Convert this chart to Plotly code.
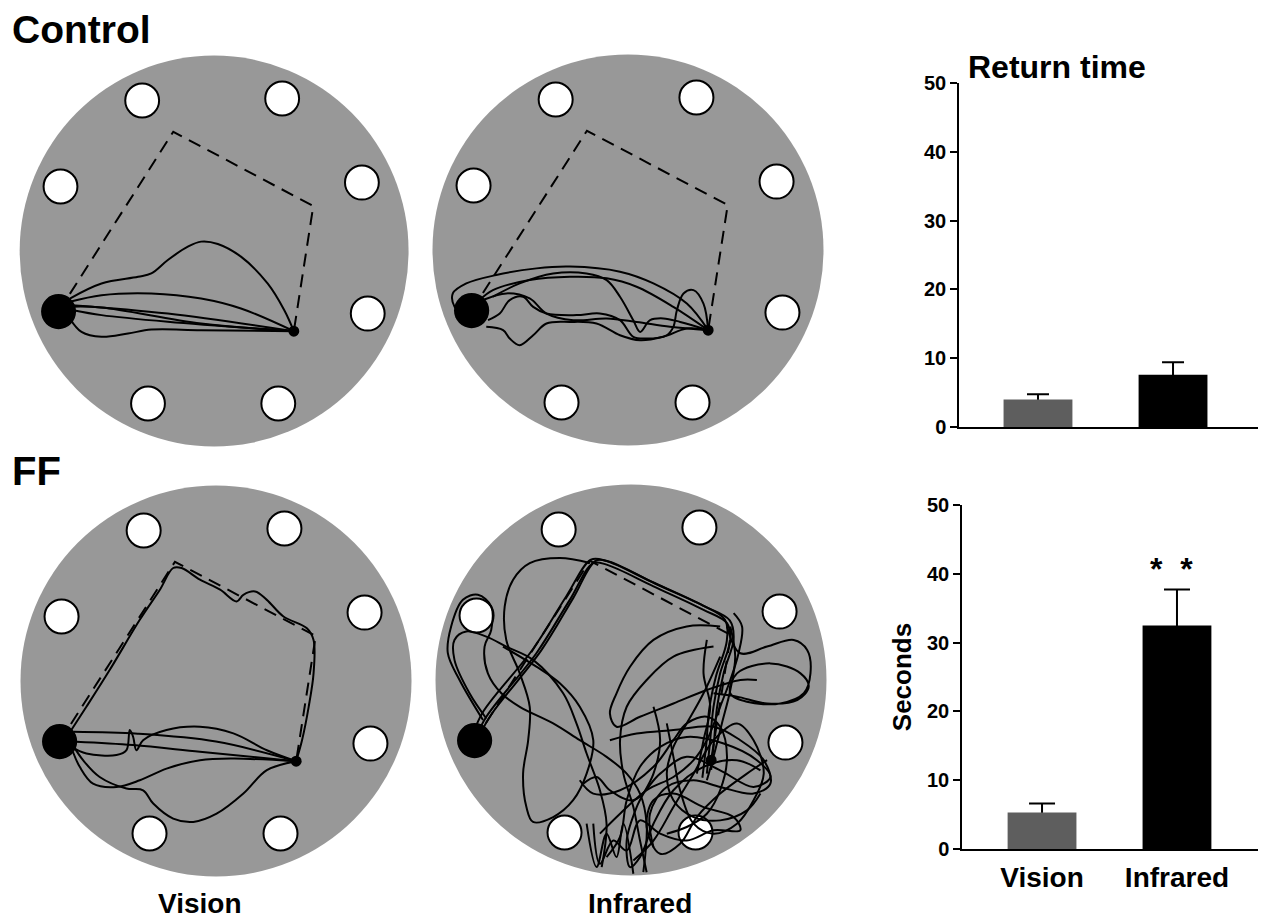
import plotly.graph_objects as go

# ------------------------------------------------------------------
# Bar-chart data (return time, seconds)
# ------------------------------------------------------------------
conditions = ["Vision", "Infrared"]
control_return_time = [4.0, 7.6]
control_sem = [0.75, 1.8]
ff_return_time = [5.3, 32.5]
ff_sem = [1.3, 5.2]
y_tick_vals = [0, 10, 20, 30, 40, 50]
bar_colors = ["#5e5e5e", "#000000"]

# ------------------------------------------------------------------
# Arena data (arena radius = 100 units, y pointing up)
# ------------------------------------------------------------------
ARENA_R = 100
hole_x = [-37, 35, -79, 76, 79, -34, 33]
hole_y = [77, 78, 33, 35, -32, -78, -78]
HOLE_R = 8.7
start_x, start_y = -80, -31
START_R = 9.0
target_x, target_y = 41, -41
TARGET_R = 2.8
route_x = [-80, -21, 51, 41]
route_y = [-31, 61, 23, -41]

# Control rat, vision
ctrl_vision_paths = [
    ([-74.2, -57.9, -39.1, -32.3, -23.8, -13.5, -6.7, 1.9, 13.8, 27.5, 36.1, 41],
     [-24.3, -16.6, -13.2, -11.5, -4.6, 2.2, 4.8, 3.6, -2.9, -16.6, -30.3, -41]),
    ([-74.2, -57.9, -32.3, -6.7, 13.8, 41],
     [-26.0, -22.6, -21.7, -24.3, -29.4, -41]),
    ([-73.3, -23.8, 41],
     [-27.7, -32.0, -41]),
    ([-72.5, -57.9, -23.8, 41],
     [-30.3, -32.8, -36.2, -41]),
    ([-74.2, -68.2, -57.9, -44.3, -32.3, -6.7, 41],
     [-34.5, -41.4, -43.9, -42.2, -40.2, -40.5, -41]),
    ([-73.0, -57.9, -6.7, 41],
     [-28.5, -28.9, -37.1, -41]),
]

# Control rat, infrared
ctrl_infrared_paths = [
    ([41, 30.1, 13, -4.1, -29.7, -46.8, -67.4, -82.7, -89.6, -88.7, -81, -72.5],
     [-41, -27.4, -17.1, -11.1, -8.5, -9.4, -12.8, -17.1, -22.2, -29.1, -35.9, -34.2]),
    ([41, 23.2, 4.4, -10.9, -29.7, -50.3, -69.1, -75.9],
     [-41, -29.1, -18.8, -14.5, -13.7, -15.4, -20.5, -25.6]),
    ([41, 38.6, 33.5, 28.4, 25, 23.2, 19.8, 9.6, 2.7, -4.1, -14.4, -26.3, -41.7, -48.5, -53.7, -60.5, -65.6, -71.6],
     [-41, -27.4, -20.5, -22.2, -30.8, -39.3, -43.6, -45.3, -44.4, -35.9, -32.5, -33.3, -32.5, -29.1, -23.9, -25.6, -32.5, -35.9]),
    ([41, 30.1, 18.1, 6.2, -4.1, -16.1, -29.7, -41.7, -48.5, -55.4, -60.5, -63.9, -72.5],
     [-41, -40.2, -44.4, -46.2, -43.6, -37.6, -36.8, -37.6, -43.6, -48.7, -45.3, -41, -39.3]),
    ([-74.2, -62.2, -50.3, -41.7, -28, -10.9, 4.4, 21.5, 41],
     [-25.6, -22.2, -24.8, -32.5, -35.9, -35, -36.8, -39.3, -41]),
    ([41, 26.7, 18.1, 11.3, 6.2, 2.7, -4.1, -10.9, -21.2, -38.3, -55.4, -69.1],
     [-41, -36.8, -35, -35.9, -41.9, -35.9, -23.9, -15.4, -12, -12, -17.1, -23.9]),
]

# FF rat, vision
ff_vision_paths = [
    ([-74, -66.3, -54.4, -39, -28.7, -21.9, -17.6, -8.2, 2.1, 10.6, 14, 20, 26, 34.5, 46.5, 49.9, 49.9, 47.4, 44, 41],
     [-25.1, -13.2, 5.6, 31.3, 46.7, 57.8, 57.8, 51.8, 46.7, 40.7, 44.1, 45.8, 41.5, 33, 27, 21, 3.9, -13.2, -30.3, -41]),
    ([41, 26, 8.9, -8.2, -25.3, -37.3, -40.7, -42.4, -44.1, -45.8, -50.9, -66.3, -74],
     [-41, -35.4, -26.8, -23.4, -25.1, -30.3, -35.4, -28.5, -25.1, -35.4, -37.9, -37.1, -33.7]),
    ([41, -8.2, -42.4, -71.5],
     [-41, -36.2, -32.8, -31.1]),
    ([41, 8.9, -8.2, -25.3, -39, -50.9, -62.9, -69.7, -73.2],
     [-41, -39.7, -40.5, -44.8, -50.8, -54.2, -52.5, -43.9, -36.2]),
    ([41, 26, 14, 0.3, -11.6, -21.9, -32.1, -37.3, -45.8, -59.5, -68, -73.2],
     [-41, -45.6, -57.6, -67.9, -72.1, -70.4, -62.7, -55.9, -55, -49.1, -40.5, -32.8]),
    ([41, 0, -40, -73],
     [-41, -31, -27, -26]),
]

# FF rat, infrared
ff_infrared_paths = [
    ([-80, -74, -48.4, -31.3, -19.3, -12.5, 11.5, 37.1, 49.1, 50.8, 45.6, 42.2, 40.5, 38.8],
     [-30.8, -18.8, 13.7, 41, 59.8, 59, 47.9, 35.9, 29.1, 20.5, 3.4, -13.7, -30.8, -47.9]),
    ([-78, -71, -46, -29.5, -18, -11, 12, 38, 50.5, 52.5, 47.5, 44, 42.5, 41],
     [-29, -17, 15, 42, 61, 60.5, 49.5, 37.5, 30.5, 21, 4, -14, -31, -46]),
    ([-81, -75.5, -50, -33, -20.5, -13, 10, 36, 48, 49, 43.5, 40, 38.5, 36.5],
     [-28, -16, 16, 43, 61.5, 61, 50.5, 38.5, 31, 20, 2, -15, -33, -50]),
    ([-75.7, -87.7, -93.7, -92, -86, -78.3, -71.5, -71.5, -74.9, -73.2, -66.3, -56.9, -39.8, -26.2, -12.5, -2.2, 4.6, 8, 6.3],
     [-20.5, 0, 13.7, 27.4, 41, 43.6, 37.6, 25.6, 17.1, 3.4, -6.8, -13.7, -22.2, -30.8, -39.3, -47.9, -58.1, -73.5, -98.3]),
    ([-74, -82.6, -90.3, -90.3, -84.3, -74, -63.8, -50.1, -34.7, -27.9, -22.7, -15.9, -12.5, -15],
     [-19.7, -6.8, 10.3, 20.5, 24.8, 22.2, 17.1, 10.3, -6.8, -22.2, -37.6, -56.4, -73.5, -95.7]),
    ([-21, -36.4, -51.8, -60.3, -64.6, -63.8, -56.9, -51.8, -52.6, -55.2, -53.5, -50.1, -39.8, -29.6, -22.7, -19.3, -26.2, -36.4, -48.4, -65.5],
     [59.8, 62.4, 59.8, 51.3, 37.6, 20.5, 3.4, -13.7, -30.8, -47.9, -65, -72.6, -70.1, -61.5, -47.9, -30.8, -13.7, -1.7, 6.8, 17.1]),
    ([49.1, 55.9, 69.6, 83.2, 90.1, 91.8, 88.4, 76.4, 59.3, 50.8, 54.2, 71.3, 86.7, 90.9, 85, 69.6, 54.2, 42.2],
     [27.4, 13.7, 17.1, 20.5, 15.4, 3.4, -6.8, -12, -11.1, -6.8, 3.4, 8.5, 3.4, -3.4, -10.3, -12, -8.5, -6.8]),
    ([45.6, 28.5, 11.5, -0.5, -7.4, -10.8, -7.4, 4.6, 21.7, 38.8, 55.9, 64.4],
     [27.4, 27.4, 20.5, 6.8, -6.8, -17.1, -23.9, -18.8, -12, -5.1, 0, 0]),
    ([42.2, 21.7, 8, -2.2, -5.6, -3.9, 1.2, 4.6, 8],
     [17.1, 12, 0, -13.7, -30.8, -47.9, -65, -82.1, -98.3]),
    ([-24.4, -17.6, -10.8, 1.2, 14.9, 28.5, 45.6, 62.7, 71.3, 64.4, 47.4, 28.5, 14.9, 4.6, -2.2, -5.6, -12.5],
     [-53, -49.6, -56.4, -61.5, -47.9, -39.3, -46.2, -54.7, -49.6, -41, -32.5, -29.1, -34.2, -44.4, -61.5, -80.3, -90.6]),
    ([-19.3, -15.9, -9.1, -2.2, 4.6, 14.9, 28.5, 42.2, 55.9, 52.5, 37.1, 21.7, 11.5, 8, 14.9, 25.1, 33.7, 45.6, 59.3, 69.6],
     [-73.5, -94, -82.1, -87.2, -71.8, -78.6, -82.1, -76.9, -76.9, -70.1, -65, -58.1, -61.5, -75.2, -88.9, -83.8, -70.1, -58.1, -47.9, -41]),
    ([18.3, 21.7, 25.1, 32, 42.2, 54.2, 62.7, 67.9, 62.7, 54.2, 42.2, 32, 21.7, 11.5, 1.2],
     [-22.2, -39.3, -56.4, -73.5, -78.6, -73.5, -61.5, -47.9, -30.8, -22.2, -30.8, -47.9, -65, -82.1, -92.3]),
    ([52.5, 56.8, 55, 50.8, 45.6, 38.8, 32, 21.7, 8, -5.6, -15.9],
     [34.2, 27.4, 13.7, 0, -13.7, -30.8, -41, -49.6, -56.4, -68.4, -78.6]),
    ([-10.8, 2.9, 21.7, 42.2, 55.9, 67.9, 71.3, 62.7, 45.6, 32, 18.3, 9.7, 11.5],
     [-30.8, -27.4, -25.6, -23.9, -30.8, -41, -53, -58.1, -54.7, -51.3, -54.7, -68.4, -85.5]),
    ([-26.2, -19.3, -5.6, 11.5, 21.7, 28.5, 38.8, 45.6, 49.1, 45.6, 38.8, 28.5, 18.3],
     [-51.3, -58.1, -56.4, -44.4, -30.8, -22.2, -18.8, -23.9, -39.3, -56.4, -68.4, -75.2, -78.6]),
    ([11.5, 14.9, 11.5, 2.9, -2.2, -0.5, 4.6, 11.5, 21.7, 37.1, 54.2, 66.2],
     [-13.7, -30.8, -47.9, -65, -82.1, -95.7, -90.6, -73.5, -56.4, -44.4, -41, -46.2]),
    ([45.6, 37.1, 28.5, 21.7, 18.3, 21.7, 32, 45.6, 59.3, 66.2],
     [12, -6.8, -22.2, -34.2, -47.9, -61.5, -70.1, -71.8, -66.7, -58.1]),
    ([-22.7, -17.6, -12.5, -7.4, -3.9, 1.2],
     [-73.5, -95.7, -78.6, -90.6, -73.5, -99.1]),
    ([50.8, 53.3, 50.8, 46.5, 42.2, 38.8],
     [27.4, 12, -5.1, -22.2, -39.3, -51.3]),
    ([38.8, 37.1, 40.5, 37.1, 33.7],
     [20.5, 3.4, -13.7, -30.8, -47.9]),
]

# ------------------------------------------------------------------
# Styling / layout (pixel positions measured in the 1266 x 921 page;
# the page body keeps the browser's default 8 px margin)
# ------------------------------------------------------------------
PAGE_MARGIN = 8
W, H = 1266 - PAGE_MARGIN, 921 - PAGE_MARGIN
FONT = "Liberation Sans, Arial, Helvetica, sans-serif"
ARENA_GRAY = "#989898"
PATH_W = 2.0


def px_x(p):
    return (p - PAGE_MARGIN) / W


def px_y(p):
    return 1 - (p - PAGE_MARGIN) / H


fig = go.Figure()
shapes = []
axes_layout = {}

PX_PER_UNIT = 1.955
VIEW = 106
arenas = [
    (213, 251, ctrl_vision_paths),
    (628, 250, ctrl_infrared_paths),
    (216, 681, ff_vision_paths),
    (631, 680, ff_infrared_paths),
]

for i, (cx, cy, paths) in enumerate(arenas):
    n = i + 3
    xa, ya = f"x{n}", f"y{n}"
    half = VIEW * PX_PER_UNIT
    axes_layout[f"xaxis{n}"] = dict(domain=[max(0, px_x(cx - half)), px_x(cx + half)],
                                    range=[-VIEW, VIEW], visible=False,
                                    fixedrange=True, anchor=ya)
    axes_layout[f"yaxis{n}"] = dict(domain=[px_y(cy + half), min(1, px_y(cy - half))],
                                    range=[-VIEW, VIEW], visible=False,
                                    fixedrange=True, anchor=xa)
    shapes.append(dict(type="circle", xref=xa, yref=ya,
                       x0=-ARENA_R, y0=-ARENA_R, x1=ARENA_R, y1=ARENA_R,
                       fillcolor=ARENA_GRAY, line=dict(width=0), layer="below"))
    for hx, hy in zip(hole_x, hole_y):
        shapes.append(dict(type="circle", xref=xa, yref=ya,
                           x0=hx - HOLE_R, y0=hy - HOLE_R,
                           x1=hx + HOLE_R, y1=hy + HOLE_R,
                           fillcolor="white", line=dict(color="black", width=2),
                           layer="below"))
    fig.add_trace(go.Scatter(x=route_x, y=route_y, mode="lines",
                             line=dict(color="black", width=PATH_W, dash="13px,8px"),
                             xaxis=xa, yaxis=ya, hoverinfo="skip", showlegend=False))
    for pxs, pys in paths:
        fig.add_trace(go.Scatter(x=pxs, y=pys, mode="lines",
                                 line=dict(color="black", width=PATH_W,
                                           shape="spline", smoothing=1.0),
                                 xaxis=xa, yaxis=ya, hoverinfo="skip",
                                 showlegend=False))
    shapes.append(dict(type="circle", xref=xa, yref=ya,
                       x0=start_x - START_R, y0=start_y - START_R,
                       x1=start_x + START_R, y1=start_y + START_R,
                       fillcolor="black", line=dict(width=0), layer="above"))
    shapes.append(dict(type="circle", xref=xa, yref=ya,
                       x0=target_x - TARGET_R, y0=target_y - TARGET_R,
                       x1=target_x + TARGET_R, y1=target_y + TARGET_R,
                       fillcolor="black", line=dict(width=0), layer="above"))

# ------------------------------------------------------------------
# Bar charts
# ------------------------------------------------------------------
BAR_W = 0.51
for xa, ya, vals, errs, capw in [("x", "y", control_return_time, control_sem, 11),
                                 ("x2", "y2", ff_return_time, ff_sem, 13)]:
    # error bars first, so the real bars hide their lower end
    fig.add_trace(go.Bar(x=conditions, y=vals, width=BAR_W,
                         marker=dict(color="rgba(0,0,0,0)", line=dict(width=0)),
                         error_y=dict(type="data", symmetric=False, array=errs,
                                      arrayminus=[0.6, 0.6], color="black",
                                      thickness=2, width=capw),
                         xaxis=xa, yaxis=ya, hoverinfo="skip", showlegend=False))
    fig.add_trace(go.Bar(x=conditions, y=vals, width=BAR_W,
                         marker=dict(color=bar_colors, line=dict(width=0)),
                         xaxis=xa, yaxis=ya, showlegend=False))

tickfont = dict(family=FONT, size=20, color="black", weight="bold")
common_y = dict(range=[0, 50], tickvals=y_tick_vals, ticks="outside", ticklen=7,
                tickwidth=1.5, tickcolor="black", showline=True, linewidth=1.5,
                linecolor="black", showgrid=False, zeroline=False,
                tickfont=tickfont, fixedrange=True, automargin=False)
common_x = dict(type="category", showline=True, linewidth=1.5, linecolor="black",
                ticks="", showgrid=False, zeroline=False, fixedrange=True,
                automargin=False)

axes_layout["xaxis"] = dict(common_x, domain=[px_x(959), px_x(1262)],
                            range=[-0.585, 1.659], showticklabels=False, anchor="y")
axes_layout["yaxis"] = dict(common_y, domain=[px_y(427), px_y(83)], anchor="x")
axes_layout["xaxis2"] = dict(common_x, domain=[px_x(962), px_x(1262)],
                             range=[-0.593, 1.63], anchor="y2",
                             tickfont=dict(family=FONT, size=28, color="black",
                                           weight="bold"),
                             ticklabelstandoff=3)
axes_layout["yaxis2"] = dict(common_y, domain=[px_y(849), px_y(505)], anchor="x2",
                             title=dict(text="Seconds", standoff=8,
                                        font=dict(family=FONT, size=26,
                                                  color="black", weight="bold")))

annotations = [
    dict(text="<b>Control</b>", x=px_x(10), y=px_y(30), xref="paper", yref="paper",
         xanchor="left", yanchor="middle", showarrow=False,
         font=dict(family=FONT, size=39, color="black")),
    dict(text="<b>FF</b>", x=px_x(10), y=px_y(471), xref="paper", yref="paper",
         xanchor="left", yanchor="middle", showarrow=False,
         font=dict(family=FONT, size=40, color="black")),
    dict(text="<b>Vision</b>", x=px_x(200), y=px_y(903), xref="paper", yref="paper",
         xanchor="center", yanchor="middle", showarrow=False,
         font=dict(family=FONT, size=28, color="black")),
    dict(text="<b>Infrared</b>", x=px_x(640), y=px_y(903), xref="paper", yref="paper",
         xanchor="center", yanchor="middle", showarrow=False,
         font=dict(family=FONT, size=28, color="black")),
    dict(text="<b>Return time</b>", x=px_x(966), y=px_y(67), xref="paper", yref="paper",
         xanchor="left", yanchor="middle", showarrow=False,
         font=dict(family=FONT, size=32, color="black")),
    dict(text="<b>*  *</b>", x="Infrared", y=40.7, xref="x2", yref="y2",
         xanchor="center", yanchor="middle", showarrow=False, xshift=-5,
         font=dict(family=FONT, size=32, color="black")),
]

fig.update_layout(
    width=W, height=H, autosize=False,
    margin=dict(l=0, r=0, t=0, b=0),
    paper_bgcolor="white", plot_bgcolor="rgba(0,0,0,0)",
    barmode="overlay", showlegend=False,
    font=dict(family=FONT, color="black"),
    shapes=shapes, annotations=annotations,
    **axes_layout,
)

fig.write_html("out.html")
